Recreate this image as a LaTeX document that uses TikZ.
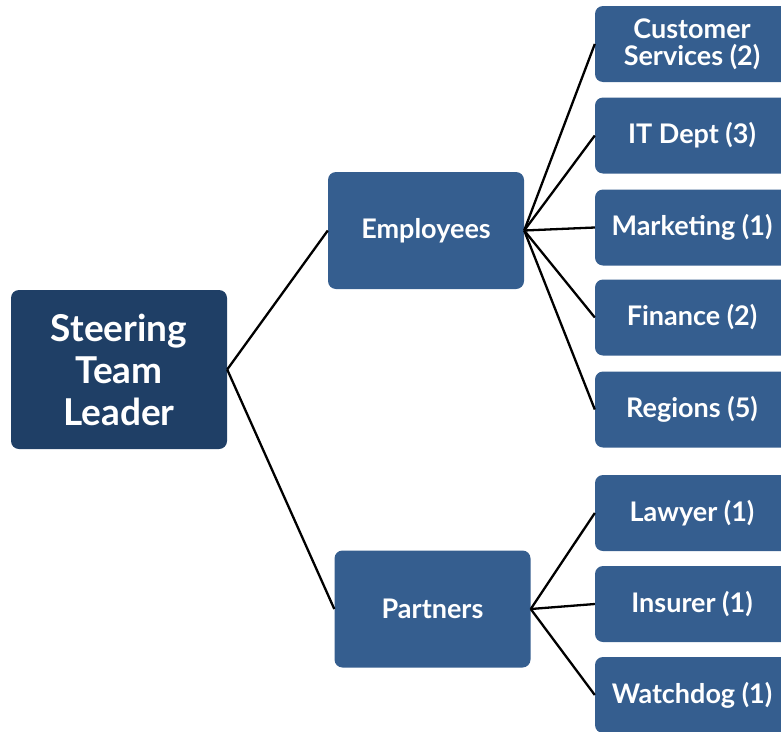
\documentclass[tikz,border=0pt]{standalone}
\usepackage{fontspec}
\setmainfont{Lato}[BoldFont={Lato Bold}]
\definecolor{rootblue}{HTML}{1F3F66}
\definecolor{boxblue}{HTML}{355E8F}
\begin{document}
\begin{tikzpicture}[x=1pt,y=-1pt,
  box/.style={draw=none, fill=boxblue, rounded corners=8pt, text=white, font=\bfseries\fontsize{27}{27}\selectfont, align=center, inner sep=0pt},
  rootbox/.style={box, fill=rootblue, font=\bfseries\fontsize{37}{42}\selectfont, minimum width=216pt, minimum height=159pt},
  midbox/.style={box, minimum width=196pt, minimum height=117pt},
  leaf/.style={box, minimum width=194pt, minimum height=76pt},
  link/.style={line width=2.3pt, black}]
\useasboundingbox (0,0) rectangle (781,731);
\node[rootbox] (root) at (119,369.5) {Steering\\Team\\Leader};
\node[midbox] (emp) at (426,230.5) {Employees};
\node[midbox] (par) at (432.5,609) {Partners};
\node[leaf] (cs) at (692,44) {Customer\\Services (2)};
\node[leaf] (it) at (692,135.5) {IT Dept (3)};
\node[leaf] (mk) at (692,227.5) {Marketing (1)};
\node[leaf] (fi) at (692,317.5) {Finance (2)};
\node[leaf] (re) at (692,409.5) {Regions (5)};
\node[leaf] (la) at (692,513) {Lawyer (1)};
\node[leaf] (in) at (692,604) {Insurer (1)};
\node[leaf] (wa) at (692,695) {Watchdog (1)};
\draw[link] (root.east) -- (emp.west);
\draw[link] (root.east) -- (par.west);
\foreach \t in {cs,it,mk,fi,re} \draw[link] (emp.east) -- (\t.west);
\foreach \t in {la,in,wa} \draw[link] (par.east) -- (\t.west);
\end{tikzpicture}
\end{document}
